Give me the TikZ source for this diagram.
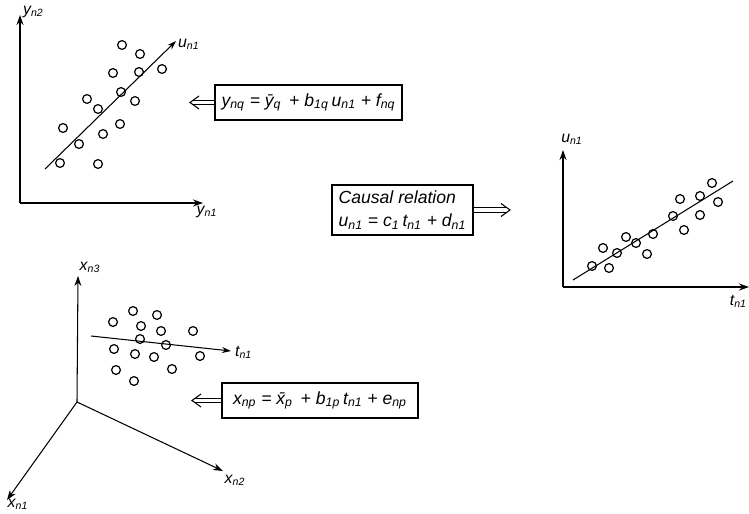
\documentclass[tikz,border=0pt]{standalone}
\usepackage{fontspec}
\newfontfamily\lettering{Liberation Sans}
\usepackage{tikz}
\usetikzlibrary{positioning,arrows.meta}
\tikzset{
  axisarrow/.style={-{Stealth[length=2mm, width=1.4mm]}, line width=0.6pt},
  fitline/.style={-{Stealth[length=1.8mm, width=1.2mm]}, line width=0.6pt},
  datapt/.style={line width=0.7pt},
  eqbox/.style={draw, line width=0.6pt, font=\lettering\itshape, align=left, inner sep=3pt},
  hollowshaft/.style={double, double distance=2pt, line width=0.5pt, shorten >=1.8pt},
  hollowhead/.style={line width=0.6pt},
  axlabel/.style={font=\lettering\itshape\small, inner sep=1pt}
}
\newcommand{\sub}[2]{#1\textsubscript{#2}}

\begin{document}
\begin{tikzpicture}[x=0.02cm, y=-0.02cm]
  \useasboundingbox (0,0) rectangle (749,513);

  % response block, y space
  \coordinate (yo) at (20,203);
  \coordinate (yv) at (20,15);
  \coordinate (yh) at (203,203);
  \coordinate (ua) at (45,169);
  \coordinate (ub) at (176,41);
  \draw[axisarrow] (yo) -- (yv);
  \draw[axisarrow] (yo) -- (yh);
  \draw[fitline] (ua) -- (ub);
  \node[axlabel, anchor=west] (yn2) at (21,12) {\sub{y}{n2}};
  \node[axlabel] (yn1) at (207,212) {\sub{y}{n1}};
  \node[axlabel, anchor=west] (un1a) at (176,44) {\sub{u}{n1}};
  \foreach \px/\py in {122/45, 140/54, 162/69, 139/72, 113/73, 121/92, 87/99, 98/109,
                       135/101, 120/124, 63/128, 103/134, 79/144, 60/163, 98/164}
    \draw[datapt] (\px,\py) circle[radius=2.5pt];

  \node[eqbox, minimum width=3.74cm, minimum height=0.7cm] (eqy) at (308.5,102.5)
    {\sub{y}{nq} = \={y}\textsubscript{q} \,+ \sub{b}{1q}\,\sub{u}{n1} + \sub{f}{nq}};
  \coordinate (eqyend) at (190,102.5);
  \draw[hollowshaft] (eqy.west) -- (eqyend);
  \draw[hollowhead] ([shift={(9,-6.5)}]eqyend) -- (eqyend) -- ([shift={(9,6.5)}]eqyend);

  % inner relation
  \node[eqbox, minimum width=2.82cm, minimum height=1.0cm] (inner) at (402.5,210)
    {Causal relation\\[1pt]\sub{u}{n1} = \sub{c}{1}\,\sub{t}{n1} + \sub{d}{n1}};
  \coordinate (innerend) at (510,210);
  \draw[hollowshaft] (inner.east) -- (innerend);
  \draw[hollowhead] ([shift={(-9,-6.5)}]innerend) -- (innerend) -- ([shift={(-9,6.5)}]innerend);

  % t against u
  \coordinate (to) at (563,287);
  \coordinate (tv) at (563,150);
  \coordinate (th) at (749,287);
  \coordinate (ta) at (573,280);
  \coordinate (tb) at (733,181);
  \draw[axisarrow] (to) -- (tv);
  \draw[axisarrow] (to) -- (th);
  \draw[line width=0.6pt] (ta) -- (tb);
  \node[axlabel] (un1b) at (572,139) {\sub{u}{n1}};
  \node[axlabel, anchor=east] (tn1b) at (749,301) {\sub{t}{n1}};
  \foreach \px/\py in {592/266, 609/268, 603/248, 617/253, 626/237, 636/243, 647/254, 653/234,
                       673/216, 684/230, 680/199, 700/196, 700/215, 712/183, 718/202}
    \draw[datapt] (\px,\py) circle[radius=2.5pt];

  % predictor block, x space
  \coordinate (xo) at (77,402);
  \coordinate (x3) at (78,276);
  \coordinate (x2) at (223,471);
  \coordinate (x1) at (7,500);
  \coordinate (xa) at (91,336);
  \coordinate (xb) at (231,351);
  \draw[axisarrow] (xo) -- (x3);
  \draw[axisarrow] (xo) -- (x2);
  \draw[axisarrow] (xo) -- (x1);
  \draw[fitline] (xa) -- (xb);
  \node[axlabel] (xn3) at (90,267) {\sub{x}{n3}};
  \node[axlabel] (xn2) at (235,480) {\sub{x}{n2}};
  \node[axlabel] (xn1) at (18,504) {\sub{x}{n1}};
  \node[axlabel, anchor=west] (tn1a) at (233,352) {\sub{t}{n1}};
  \foreach \px/\py in {133/311, 157/315, 113/322, 141/326, 161/331, 193/331, 140/339, 166/345,
                       114/349, 135/354, 154/357, 200/356, 116/370, 172/369, 134/381}
    \draw[datapt] (\px,\py) circle[radius=2.5pt];

  \node[eqbox, minimum width=3.92cm, minimum height=0.7cm] (eqx) at (320,400.5)
    {\sub{x}{np} = \={x}\textsubscript{p} \,+ \sub{b}{1p}\,\sub{t}{n1} + \sub{e}{np}};
  \coordinate (eqxend) at (192,400.5);
  \draw[hollowshaft] (eqx.west) -- (eqxend);
  \draw[hollowhead] ([shift={(9,-6.5)}]eqxend) -- (eqxend) -- ([shift={(9,6.5)}]eqxend);
\end{tikzpicture}
\end{document}
